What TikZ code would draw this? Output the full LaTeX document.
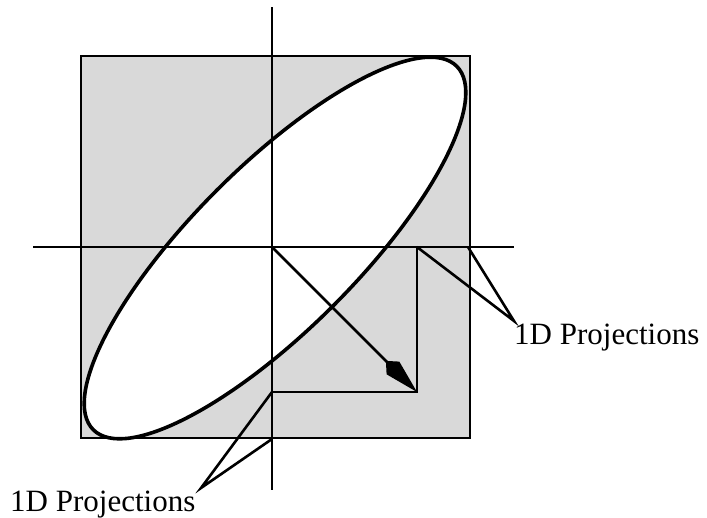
\documentclass[tikz,border=0pt]{standalone}
\usepackage{fontspec}
\setmainfont{Liberation Serif}
\usepackage{xcolor}
\usepackage{tikz}
\usetikzlibrary{arrows.meta}
\definecolor{ink}   {HTML}{000000}
\definecolor{panel} {HTML}{D9D9D9}
\tikzset{
  box/.style   = {fill=panel, draw=ink, line width=2.2pt},
  blob/.style  = {fill=white, draw=ink, line width=3.6pt},
  axis/.style  = {draw=ink, line width=2.6pt},
  guide/.style = {draw=ink, line width=2.6pt},
  vec/.style   = {-{Kite[length=44pt, width=18pt, inset=10pt]}, draw=ink, line width=2.8pt},
  tag/.style   = {font=\fontsize{31}{36}\selectfont, text=ink, inner sep=0pt},
}

\begin{document}
\begin{tikzpicture}[x=1pt, y=-1pt]
  \useasboundingbox (0,0) rectangle (707,517);

  % square and the ellipse
  \draw[box] (81,56) rectangle (470,438);
  \draw[blob] (275,248) ellipse [x radius=257pt, y radius=82pt, rotate=45];

  % axes
  \coordinate (top)   at (272,7);
  \coordinate (bot)   at (272,490);
  \coordinate (left)  at (33,247);
  \coordinate (right) at (514,247);
  \draw[axis] (top) -- (bot);
  \draw[axis] (left) -- (right);

  % vector and its projections
  \coordinate (o)  at (272,247);
  \coordinate (t)  at (417,392);
  \coordinate (px) at (417,247);
  \coordinate (py) at (272,392);
  \coordinate (ex) at (468,247);
  \coordinate (ey) at (272,439);
  \draw[guide] (px) -- (t) -- (py);
  \draw[vec] (o) -- (t);

  % labels
  \node[tag, anchor=base west] (labR) at (514,344) {1D Projections};
  \node[tag, anchor=base west] (labB) at (10,511)  {1D Projections};
  \coordinate (hubR) at (514,321);
  \coordinate (hubB) at (201,488);

  \draw[guide, line join=miter] (px) -- (hubR) -- (ex);
  \draw[guide, line join=miter] (py) -- (hubB) -- (ey);
\end{tikzpicture}
\end{document}
